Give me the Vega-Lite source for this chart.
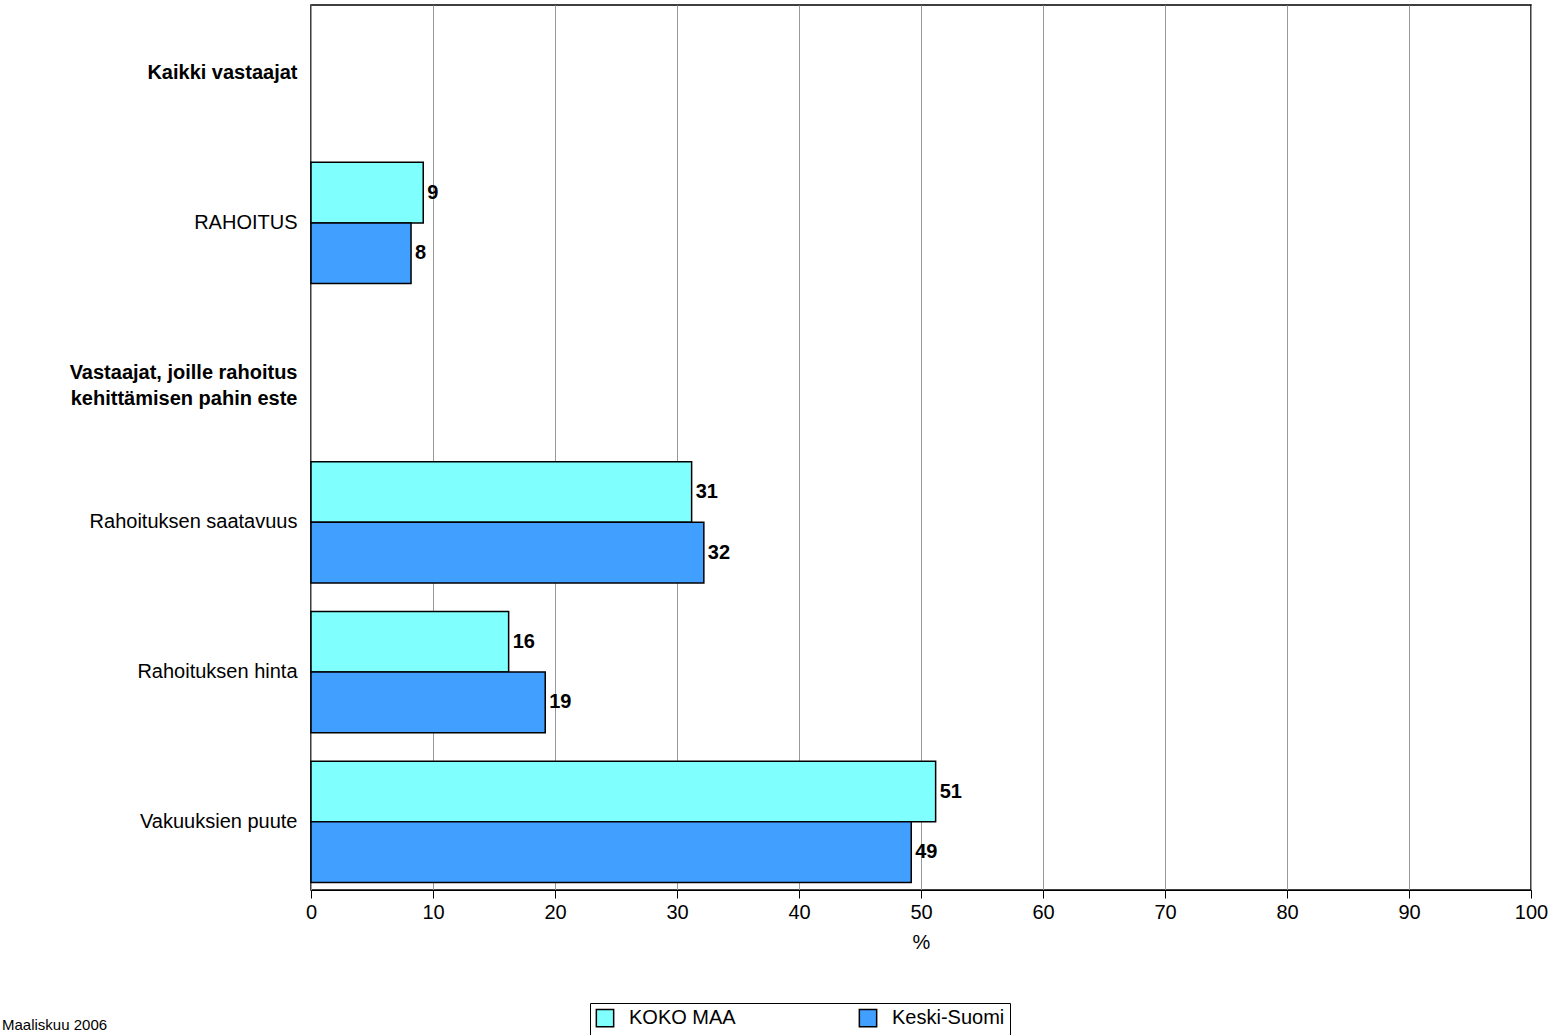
{
"$schema":"https://vega.github.io/schema/vega-lite/v6.json",
"width":1220,"height":885,
"autosize":{"type":"none"},
"padding":{"left":311,"top":5,"right":34,"bottom":145},
"background":"white",
"config":{"font":"Liberation Sans","view":{"stroke":"black","strokeWidth":1.5}},
"title":{"text":"Maaliskuu 2006","orient":"bottom","anchor":"start","frame":"group","dx":-309,"dy":-18,"offset":0,"fontSize":15,"fontWeight":"normal","font":"Liberation Sans","color":"black"},
"data":{"values":[
{"cat":"RAHOITUS","s":"KOKO MAA","v":9.2},
{"cat":"RAHOITUS","s":"Keski-Suomi","v":8.2},
{"cat":"Rahoituksen saatavuus","s":"KOKO MAA","v":31.2},
{"cat":"Rahoituksen saatavuus","s":"Keski-Suomi","v":32.2},
{"cat":"Rahoituksen hinta","s":"KOKO MAA","v":16.2},
{"cat":"Rahoituksen hinta","s":"Keski-Suomi","v":19.2},
{"cat":"Vakuuksien puute","s":"KOKO MAA","v":51.2},
{"cat":"Vakuuksien puute","s":"Keski-Suomi","v":49.2}
]},
"encoding":{
"y":{"field":"cat","type":"nominal","scale":{"domain":["Kaikki vastaajat","RAHOITUS","Vastaajat, joille rahoitus|kehittämisen pahin este","Rahoituksen saatavuus","Rahoituksen hinta","Vakuuksien puute"],"paddingInner":0.19,"paddingOuter":0.05},
 "axis":{"title":null,"ticks":false,"domain":false,"labelFontSize":20,"labelPadding":14,"labelColor":"black","labelLimit":400,
 "labelExpr":"split(datum.label,'|')","labelLineHeight":26,
 "labelFontWeight":{"condition":{"test":"datum.value=='Kaikki vastaajat' || indexof(datum.value,'Vastaajat')==0","value":"bold"},"value":"normal"}}},
"yOffset":{"field":"s","type":"nominal","sort":["KOKO MAA","Keski-Suomi"]},
"x":{"field":"v","type":"quantitative","scale":{"domain":[0,100]},
 "axis":{"title":"%","titleFontSize":20,"titleFontWeight":"normal","titleColor":"black","labelFontSize":20,"labelColor":"black","labelFlush":false,"tickCount":10,"grid":true,"gridColor":"#999","domainColor":"black","tickColor":"black","tickSize":8,"labelPadding":4,"titlePadding":10}}
},
"layer":[
{"mark":{"type":"bar","stroke":"black","strokeWidth":1.5},
 "encoding":{"color":{"field":"s","type":"nominal","sort":["KOKO MAA","Keski-Suomi"],"scale":{"range":["#80FFFF","#409FFF"]},
 "legend":{"title":null,"orient":"none","legendX":279,"legendY":998,"direction":"horizontal","labelFontSize":20,"labelColor":"black","symbolType":"square","symbolSize":300,"symbolStrokeColor":"black","symbolStrokeWidth":1.5,"columnPadding":120,"labelOffset":14,"strokeColor":"black","padding":5,"labelLimit":300}}}},
{"mark":{"type":"text","align":"left","dx":4,"fontSize":20,"fontWeight":"bold"},
 "encoding":{"text":{"field":"v","type":"quantitative","format":".0f"}}}
]
}
